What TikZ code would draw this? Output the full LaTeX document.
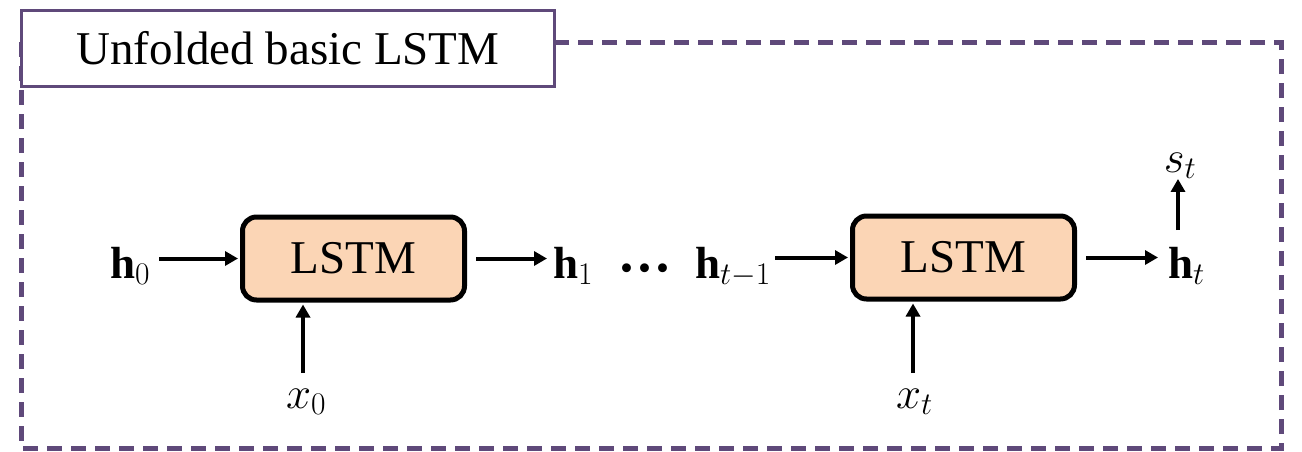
\RequirePackage{fix-cm}
\documentclass[tikz,border=0pt]{standalone}
\usepackage{fontspec}
\setmainfont{Liberation Serif}
\usetikzlibrary{arrows.meta}
\definecolor{framepurple}{HTML}{5F497A}
\definecolor{cellfill}{HTML}{FBD5B5}
\tikzset{
  cell/.style={draw=black, line width=5pt, fill=cellfill, rounded corners=14pt,
    minimum width=222pt, minimum height=83pt, inner sep=0pt,
    font=\fontsize{47}{52}\selectfont},
  lbl/.style={inner sep=0pt, font=\fontsize{45}{50}\selectfont},
  arr/.style={line width=4pt, -{Triangle[length=13pt,width=14pt]}},
  frame/.style={draw=framepurple, line width=5pt, dash pattern=on 15pt off 9pt},
  titlebox/.style={draw=framepurple, line width=3pt, fill=white,
    minimum width=533pt, minimum height=76pt, inner sep=0pt,
    font=\fontsize{47}{52}\selectfont}
}
\begin{document}
\begin{tikzpicture}[x=1pt, y=-1pt]
  \useasboundingbox (0,0) rectangle (1302,451);

  % dashed outer frame and its caption
  \draw[frame] (21,42) rectangle (1281,448);
  \node[titlebox] (title) at (288,48.5) {Unfolded basic LSTM};

  % the two unrolled cells
  \node[cell] (lstm1) at (353.5,258.5) {LSTM};
  \node[cell] (lstm2) at (963.5,257.5) {LSTM};

  % hidden states
  \node[lbl, anchor=base west] (h1) at (553,278) {$\mathbf{h}_1$};
  \node[lbl, anchor=base west] (h0) at (110,278) {$\mathbf{h}_0$};
  \node[inner sep=0pt, anchor=base west, font=\fontsize{37}{40}\selectfont] (dots) at (620,278)
    {\raisebox{-2pt}{\textbullet\kern5pt\textbullet\kern5pt\textbullet}};
  \node[lbl, anchor=base west] (htm1) at (695,278) {$\mathbf{h}_{t-1}$};
  \node[lbl, anchor=base west] (ht) at (1168,278) {$\mathbf{h}_t$};
  \node[lbl, anchor=base] (st) at (1180,172) {$s_t$};

  % inputs
  \node[lbl, anchor=base west] (x0) at (286,408) {$x_0$};
  \node[lbl, anchor=base west] (xt) at (896,408) {$x_t$};
  \coordinate (x0tail) at (303,373);
  \coordinate (xttail) at (913,373);
  \coordinate (sttail) at (1178,230);

  % recurrent connections
  \draw[arr, shorten >=2pt] ([xshift=9pt]h0.east |- lstm1.west) -- (lstm1.west);
  \draw[arr] ([xshift=9pt]lstm1.east) -- ([xshift=-6pt]h1.west |- lstm1.east);
  \draw[arr, shorten >=2pt] ([xshift=4pt]htm1.east |- lstm2.west) -- (lstm2.west);
  \draw[arr] ([xshift=9pt]lstm2.east) -- ([xshift=-10pt]ht.west |- lstm2.east);

  % input and output arrows
  \draw[arr, shorten >=2pt] (x0tail) -- (x0tail |- lstm1.south);
  \draw[arr, shorten >=2pt] (xttail) -- (xttail |- lstm2.south);
  \draw[arr] (sttail) -- (sttail |- st.south);
\end{tikzpicture}
\end{document}
